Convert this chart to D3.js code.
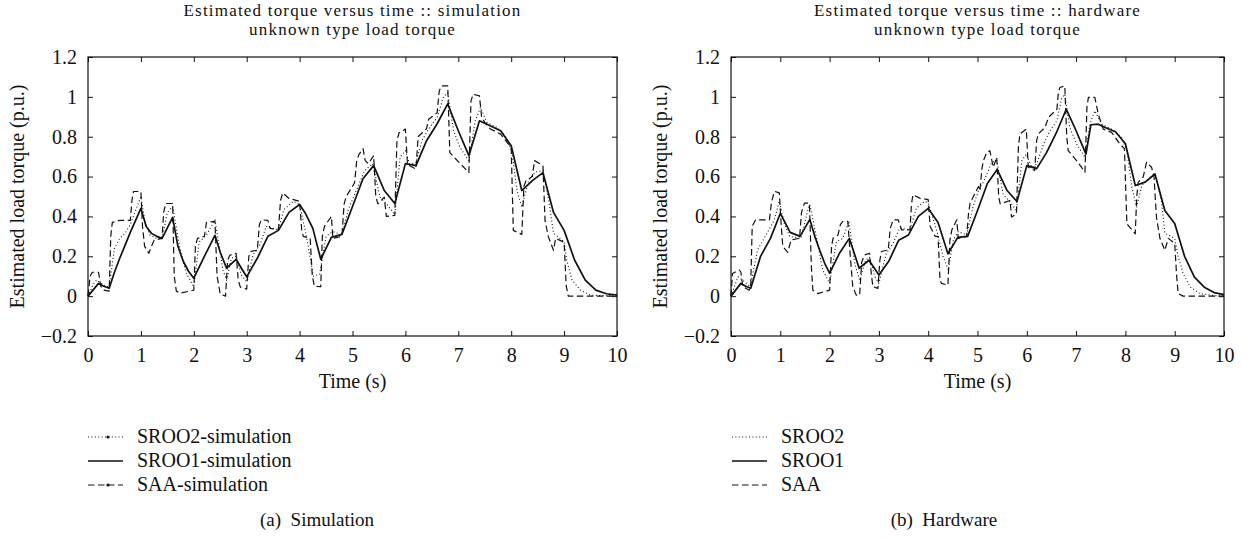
<!DOCTYPE html>
<html>
<head>
<meta charset="utf-8">
<script src="https://cdn.jsdelivr.net/npm/d3@7"></script>
<style>
  body { margin: 0; background: #fff; }
  svg text { font-family: "Liberation Serif", "Times New Roman", serif; fill: #111; }
</style>
</head>
<body>
<svg id="fig" width="1247" height="540"></svg>
<script>
// Axis ticks
const xTicks = [0, 1, 2, 3, 4, 5, 6, 7, 8, 9, 10];
const yTicks = [-0.2, 0, 0.2, 0.4, 0.6, 0.8, 1, 1.2];

// Simulation panel, [time (s), torque (p.u.)]
const simSroo2 = [[0,0],[0.1,0.06],[0.16,0.08],[0.22,0.072],[0.3,0.055],[0.4,0.045],[0.5,0.24],[0.6,0.29],[0.7,0.315],[0.8,0.36],[0.9,0.43],[1.0,0.5],[1.07,0.383],[1.17,0.307],[1.3,0.29],[1.4,0.29],[1.5,0.42],[1.6,0.45],[1.73,0.25],[1.86,0.114],[2.0,0.047],[2.1,0.27],[2.24,0.307],[2.4,0.383],[2.55,0.131],[2.62,0.08],[2.71,0.19],[2.8,0.2],[2.9,0.106],[3.0,0.072],[3.12,0.207],[3.25,0.257],[3.37,0.35],[3.5,0.34],[3.6,0.333],[3.7,0.434],[3.88,0.476],[4.0,0.46],[4.13,0.3],[4.26,0.1],[4.38,0.11],[4.5,0.3],[4.63,0.324],[4.8,0.307],[4.92,0.434],[5.07,0.53],[5.23,0.63],[5.38,0.665],[5.52,0.497],[5.64,0.463],[5.8,0.41],[5.9,0.697],[6.0,0.73],[6.08,0.663],[6.2,0.67],[6.31,0.78],[6.46,0.847],[6.6,0.897],[6.72,1.0],[6.8,1.02],[6.91,0.83],[7.03,0.747],[7.2,0.68],[7.32,0.88],[7.42,0.947],[7.54,0.872],[7.73,0.847],[7.88,0.805],[8.01,0.73],[8.11,0.53],[8.2,0.447],[8.33,0.58],[8.45,0.622],[8.6,0.63],[8.71,0.48],[8.8,0.316],[9.0,0.274],[9.05,0.18],[9.15,0.08],[9.31,0.03],[9.5,0.005],[10,0]];
const simSroo1 = [[0,0],[0.2,0.064],[0.3,0.05],[0.4,0.04],[0.5,0.12],[0.6,0.19],[0.8,0.32],[1.0,0.44],[1.1,0.35],[1.2,0.315],[1.3,0.3],[1.4,0.29],[1.6,0.395],[1.7,0.25],[1.8,0.175],[1.9,0.125],[2.0,0.09],[2.2,0.2],[2.4,0.305],[2.5,0.22],[2.62,0.14],[2.8,0.185],[2.9,0.14],[3.0,0.097],[3.2,0.19],[3.4,0.3],[3.6,0.33],[3.8,0.42],[4.0,0.46],[4.1,0.42],[4.25,0.34],[4.4,0.185],[4.6,0.295],[4.8,0.31],[5.0,0.45],[5.2,0.59],[5.4,0.655],[5.6,0.53],[5.8,0.465],[6.0,0.665],[6.2,0.655],[6.4,0.78],[6.6,0.865],[6.8,0.965],[7.0,0.83],[7.2,0.705],[7.4,0.88],[7.6,0.855],[7.8,0.83],[8.0,0.755],[8.2,0.53],[8.4,0.58],[8.6,0.62],[8.8,0.42],[9.0,0.33],[9.2,0.18],[9.4,0.08],[9.6,0.03],[9.8,0.012],[10,0.005]];
const simSaa = [[0,0],[0.04,0.1],[0.08,0.12],[0.2,0.12],[0.24,0.05],[0.3,0.03],[0.4,0.025],[0.43,0.3],[0.46,0.37],[0.6,0.38],[0.8,0.38],[0.83,0.48],[0.86,0.525],[1.0,0.525],[1.03,0.35],[1.07,0.25],[1.15,0.215],[1.2,0.25],[1.25,0.28],[1.4,0.29],[1.43,0.42],[1.47,0.465],[1.6,0.465],[1.63,0.1],[1.67,0.025],[1.75,0.015],[2.0,0.03],[2.03,0.25],[2.07,0.29],[2.2,0.3],[2.24,0.37],[2.4,0.375],[2.44,0.1],[2.5,0.01],[2.6,0.0],[2.64,0.18],[2.68,0.205],[2.8,0.215],[2.84,0.08],[2.88,0.045],[3.0,0.035],[3.04,0.2],[3.08,0.225],[3.2,0.23],[3.24,0.36],[3.28,0.383],[3.4,0.38],[3.44,0.34],[3.6,0.335],[3.64,0.48],[3.68,0.518],[3.8,0.49],[4.0,0.476],[4.04,0.33],[4.07,0.3],[4.2,0.29],[4.24,0.1],[4.28,0.05],[4.4,0.047],[4.43,0.3],[4.47,0.35],[4.6,0.4],[4.63,0.29],[4.8,0.3],[4.84,0.46],[4.88,0.5],[5.0,0.55],[5.04,0.57],[5.08,0.68],[5.12,0.71],[5.2,0.74],[5.24,0.68],[5.3,0.665],[5.4,0.705],[5.44,0.5],[5.48,0.463],[5.6,0.497],[5.64,0.4],[5.8,0.405],[5.84,0.78],[5.88,0.82],[6.0,0.838],[6.04,0.66],[6.2,0.638],[6.24,0.8],[6.4,0.84],[6.44,0.888],[6.6,0.92],[6.64,1.03],[6.68,1.055],[6.8,1.055],[6.84,0.72],[7.0,0.675],[7.2,0.62],[7.24,0.98],[7.28,1.013],[7.4,1.005],[7.44,0.9],[7.5,0.872],[7.6,0.84],[7.8,0.813],[8.0,0.745],[8.04,0.33],[8.2,0.31],[8.24,0.55],[8.28,0.58],[8.4,0.6],[8.44,0.68],[8.6,0.655],[8.64,0.38],[8.7,0.3],[8.8,0.23],[8.84,0.29],[9.0,0.27],[9.04,0.05],[9.08,0.0],[10,0]];

// Hardware panel, [time (s), torque (p.u.)]
const hwSroo2 = [[0,0],[0.14,0.097],[0.24,0.08],[0.39,0.047],[0.54,0.232],[0.71,0.307],[0.88,0.383],[0.98,0.476],[1.08,0.366],[1.19,0.3],[1.42,0.29],[1.56,0.434],[1.6,0.459],[1.73,0.3],[1.86,0.131],[2.0,0.064],[2.14,0.274],[2.27,0.29],[2.39,0.375],[2.51,0.165],[2.61,0.08],[2.73,0.18],[2.81,0.195],[2.92,0.097],[3.0,0.064],[3.15,0.215],[3.29,0.266],[3.42,0.341],[3.63,0.333],[3.76,0.442],[3.93,0.476],[4.0,0.467],[4.17,0.333],[4.3,0.2],[4.41,0.131],[4.51,0.282],[4.61,0.324],[4.78,0.307],[4.91,0.45],[5.05,0.55],[5.12,0.572],[5.29,0.672],[5.39,0.68],[5.52,0.513],[5.69,0.463],[5.79,0.43],[5.9,0.68],[5.99,0.713],[6.1,0.647],[6.2,0.663],[6.34,0.763],[6.47,0.83],[6.61,0.88],[6.71,0.997],[6.77,1.013],[6.87,0.847],[7.01,0.763],[7.18,0.697],[7.28,0.863],[7.38,0.93],[7.52,0.863],[7.72,0.838],[7.92,0.797],[8.03,0.73],[8.13,0.547],[8.23,0.447],[8.33,0.555],[8.5,0.597],[8.6,0.613],[8.73,0.48],[8.8,0.316],[9.0,0.29],[9.07,0.2],[9.17,0.114],[9.31,0.047],[9.51,0.013],[9.78,0.003],[10,0]];
const hwSroo1 = [[0,0],[0.2,0.064],[0.3,0.05],[0.4,0.04],[0.6,0.2],[0.8,0.29],[1.0,0.415],[1.2,0.32],[1.4,0.3],[1.6,0.385],[1.7,0.3],[1.8,0.23],[1.9,0.165],[2.0,0.115],[2.2,0.215],[2.4,0.29],[2.6,0.14],[2.8,0.18],[3.0,0.106],[3.2,0.175],[3.4,0.28],[3.6,0.307],[3.8,0.4],[4.0,0.44],[4.2,0.37],[4.4,0.213],[4.6,0.295],[4.8,0.3],[5.0,0.43],[5.2,0.565],[5.4,0.635],[5.6,0.53],[5.8,0.475],[6.0,0.655],[6.2,0.64],[6.4,0.72],[6.6,0.82],[6.8,0.938],[7.0,0.83],[7.2,0.713],[7.3,0.86],[7.45,0.863],[7.6,0.845],[7.8,0.825],[8.0,0.765],[8.2,0.555],[8.4,0.572],[8.6,0.613],[8.8,0.43],[9.0,0.365],[9.2,0.2],[9.4,0.095],[9.6,0.045],[9.8,0.018],[10,0.008]];
const hwSaa = [[0,0],[0.03,0.114],[0.17,0.131],[0.2,0.12],[0.24,0.047],[0.37,0.03],[0.4,0.05],[0.43,0.35],[0.5,0.383],[0.78,0.383],[0.82,0.47],[0.88,0.526],[0.98,0.518],[1.02,0.35],[1.05,0.25],[1.15,0.22],[1.22,0.282],[1.39,0.29],[1.43,0.42],[1.49,0.467],[1.59,0.467],[1.63,0.15],[1.66,0.03],[1.76,0.013],[2.0,0.03],[2.04,0.25],[2.07,0.29],[2.17,0.307],[2.22,0.36],[2.27,0.375],[2.37,0.375],[2.42,0.2],[2.47,0.047],[2.54,0.005],[2.61,0.005],[2.65,0.17],[2.71,0.207],[2.81,0.215],[2.85,0.1],[2.88,0.047],[2.98,0.039],[3.02,0.18],[3.05,0.224],[3.19,0.232],[3.23,0.34],[3.29,0.383],[3.39,0.383],[3.46,0.333],[3.63,0.333],[3.66,0.46],[3.69,0.509],[3.83,0.492],[4.0,0.484],[4.04,0.35],[4.14,0.3],[4.2,0.3],[4.24,0.08],[4.27,0.064],[4.4,0.055],[4.44,0.28],[4.48,0.333],[4.58,0.383],[4.61,0.29],[4.78,0.3],[4.82,0.42],[4.85,0.467],[5.02,0.55],[5.05,0.53],[5.09,0.64],[5.12,0.68],[5.19,0.722],[5.25,0.73],[5.32,0.647],[5.39,0.697],[5.43,0.5],[5.46,0.463],[5.66,0.48],[5.69,0.397],[5.79,0.413],[5.83,0.75],[5.86,0.813],[5.99,0.838],[6.03,0.647],[6.16,0.63],[6.2,0.78],[6.23,0.813],[6.37,0.847],[6.44,0.897],[6.61,0.938],[6.64,1.02],[6.67,1.047],[6.77,1.055],[6.81,0.8],[6.84,0.73],[7.01,0.68],[7.18,0.622],[7.22,0.95],[7.25,0.997],[7.38,0.997],[7.45,0.913],[7.55,0.838],[7.72,0.822],[7.89,0.763],[7.98,0.74],[8.03,0.363],[8.2,0.313],[8.23,0.5],[8.26,0.572],[8.36,0.597],[8.43,0.672],[8.53,0.647],[8.58,0.6],[8.63,0.397],[8.7,0.29],[8.8,0.23],[8.87,0.29],[9.0,0.265],[9.04,0.1],[9.07,0.013],[9.17,0],[10,0]];

// Texts
const simTitle = ["Estimated torque versus time :: simulation", "unknown type load torque"];
const hwTitle = ["Estimated torque versus time :: hardware", "unknown type load torque"];
const simLegend = ["SROO2-simulation", "SROO1-simulation", "SAA-simulation"];
const hwLegend = ["SROO2", "SROO1", "SAA"];

// Line styles in legend order: SROO2 dotted, SROO1 solid, SAA dashed
const styles = [
    {dash: "1,2.4", width: 1.1},
    {dash: null, width: 1.7},
    {dash: "6.5,3.5", width: 1.2}
];

const svg = d3.select("#fig");

function drawPanel(opt) {
    // Scales for this panel
    let x = d3.scaleLinear().domain([0, 10]).range([opt.left, opt.right]);
    let y = d3.scaleLinear().domain([-0.2, 1.2]).range([opt.bottom, opt.top]);
    let g = svg.append("g");

    let line = d3.line()
        .x(d => x(d[0]))
        .y(d => y(d[1]));

    // Draws the three curves, solid one on top
    [2, 0, 1].forEach(k => {
        g.append("path")
            .attr("d", line(opt.series[k]))
            .attr("fill", "none")
            .attr("stroke", "#111")
            .attr("stroke-width", styles[k].width)
            .attr("stroke-dasharray", styles[k].dash)
            .attr("stroke-linejoin", "round");
    });

    // Axes with inward ticks on all four sides
    let tickFmt = d => d < 0 ? "\u2212" + Math.abs(d) : String(d);
    let bottom = g.append("g").attr("transform", `translate(0,${opt.bottom})`)
        .call(d3.axisBottom(x).tickValues(xTicks).tickSize(-5).tickPadding(12).tickFormat(tickFmt));
    let top = g.append("g").attr("transform", `translate(0,${opt.top})`)
        .call(d3.axisTop(x).tickValues(xTicks).tickSize(-5).tickFormat(""));
    let left = g.append("g").attr("transform", `translate(${opt.left},0)`)
        .call(d3.axisLeft(y).tickValues(yTicks).tickSize(-5).tickPadding(11).tickFormat(tickFmt));
    let right = g.append("g").attr("transform", `translate(${opt.right},0)`)
        .call(d3.axisRight(y).tickValues(yTicks).tickSize(-5).tickFormat(""));

    [bottom, top, left, right].forEach(a => {
        a.select(".domain").remove();
        a.selectAll(".tick line").attr("stroke", "#111").attr("stroke-width", 1);
        a.selectAll("text").attr("font-size", 20).attr("fill", "#111")
            .style("font-family", "'Liberation Serif', serif");
    });

    // Box round the plot
    g.append("rect")
        .attr("x", opt.left).attr("y", opt.top)
        .attr("width", opt.right - opt.left).attr("height", opt.bottom - opt.top)
        .attr("fill", "none").attr("stroke", "#111").attr("stroke-width", 1.2);

    let cx = (opt.left + opt.right) / 2;

    // Two-line title
    opt.title.forEach((t, i) => {
        g.append("text").attr("x", cx).attr("y", 16 + i * 19)
            .attr("text-anchor", "middle").attr("font-size", 17)
            .attr("letter-spacing", 1.2).text(t);
    });

    // Axis labels
    g.append("text").attr("x", cx).attr("y", 388)
        .attr("text-anchor", "middle").attr("font-size", 20).text("Time (s)");
    g.append("text")
        .attr("transform", `translate(${opt.left - 64},${(opt.top + opt.bottom) / 2}) rotate(-90)`)
        .attr("text-anchor", "middle").attr("font-size", 20)
        .text("Estimated load torque (p.u.)");

    // Legend below the plot
    opt.legend.forEach((name, i) => {
        let ly = 437 + i * 24;
        g.append("line")
            .attr("x1", opt.legendX).attr("x2", opt.legendX + 35)
            .attr("y1", ly).attr("y2", ly)
            .attr("stroke", "#111").attr("stroke-width", styles[i].width)
            .attr("stroke-dasharray", styles[i].dash);
        if (opt.markers && i !== 1) {
            g.append("circle").attr("cx", opt.legendX + 20).attr("cy", ly)
                .attr("r", 1.6).attr("fill", "#111");
        }
        g.append("text").attr("x", opt.legendX + 49).attr("y", ly + 6)
            .attr("font-size", 20).text(name);
    });

    // Caption
    g.append("text").attr("x", opt.captionX).attr("y", 526)
        .attr("text-anchor", "middle").attr("font-size", 19).text(opt.caption);
}

drawPanel({
    left: 88, right: 617, top: 57, bottom: 336,
    series: [simSroo2, simSroo1, simSaa],
    title: simTitle, legend: simLegend, legendX: 88, markers: true,
    caption: "(a)\u00a0\u00a0Simulation", captionX: 317
});

drawPanel({
    left: 731, right: 1224, top: 57, bottom: 336,
    series: [hwSroo2, hwSroo1, hwSaa],
    title: hwTitle, legend: hwLegend, legendX: 732, markers: false,
    caption: "(b)\u00a0\u00a0Hardware", captionX: 944
});
</script>
</body>
</html>
